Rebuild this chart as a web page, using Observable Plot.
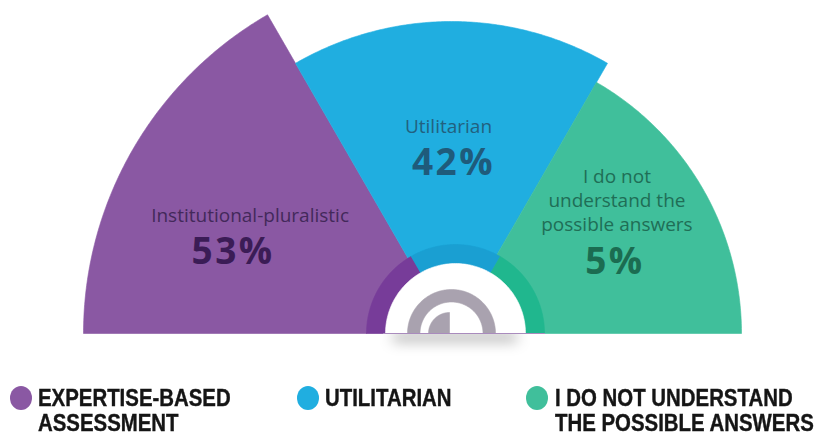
<!DOCTYPE html>
<html><head><meta charset="utf-8">
<script src="https://cdn.jsdelivr.net/npm/d3@7"></script>
<script src="https://cdn.jsdelivr.net/npm/@observablehq/plot@0.6"></script>
<style>
body{margin:0;background:#fff;}
#wrap{position:relative;width:816px;height:435px;overflow:hidden;background:#fff;}
#chart{position:absolute;left:0;top:0;}
.leg{position:absolute;font-family:"Liberation Sans",Arial,sans-serif;font-weight:bold;font-size:24px;line-height:25px;color:#151515;white-space:pre;transform:scaleX(0.85);transform-origin:0 0;-webkit-text-stroke:0.4px #151515;}
.dot{position:absolute;width:22px;height:24px;border-radius:50%;}
</style></head><body><div id="wrap"><div id="chart"></div></div>
<script>
// ---- data ----
const categories = ["Institutional-pluralistic", "Utilitarian", "I do not understand the possible answers"];
const values = [53, 42, 5];
const segmentLabels = ["Institutional-pluralistic", "Utilitarian", "I do not\nunderstand the\npossible answers"];
const legendLabels = ["EXPERTISE-BASED\nASSESSMENT", "UTILITARIAN", "I DO NOT UNDERSTAND\nTHE POSSIBLE ANSWERS"];

// ---- styles / layout ----
const colors = ["#8a58a3", "#20aee0", "#40bf9b"];
const ringColors = ["#773c99", "#1a9fd2", "#20b78e"];
const textColors = ["#43295a", "#22617f", "#1f6e56"];
const pctColors = ["#3b1c56", "#1f5b7b", "#1b6c51"];
const outerR = d3.scaleOrdinal().domain(categories).range([368, 312, 290]);
const labelAngleDeg = [154, 90, 29], labelR = [233, 191, 188];
const nameDx = [8, -3, 1], pctDx = [-9, 2, -1];
const nameDy = [-17.5, -17, -43], pctDy = [21, 20.5, 19.5];
const SHADOW = "#000001";

const W = 816, H = 362, CY = 333, CX = 451, HUBDX = 4;
const ang = d3.scaleBand().domain(categories).range([Math.PI, 0]);
const N = 120;
function arcPts(cx, r, a0, a1) { const p = []; for (let k = 0; k <= N; k++) { const a = a0 + (a1 - a0) * k / N; p.push([cx + r * Math.cos(a), r * Math.sin(a)]); } return p; }
function wedge(cx, r, a0, a1) { return [[cx, 0], ...arcPts(cx, r, a0, a1), [cx, 0]]; }
function annulus(cx, r0, r1, a0, a1) { return [...arcPts(cx, r1, a0, a1), ...arcPts(cx, r0, a1, a0)]; }
const poly = (pts, fill) => Plot.line(pts, {x: d => d[0], y: d => d[1], fill, stroke: fill, strokeWidth: 0.6, curve: "linear"});

const marks = [];
// shadow under hub (blurred below)
marks.push(Plot.rect([0], {x1: HUBDX - 62, x2: HUBDX + 62, y1: -8, y2: 0, fill: SHADOW, fillOpacity: 0.34}));
// main wedges
categories.forEach((c, i) => {
  const a0 = ang(c), a1 = ang(c) + ang.bandwidth();
  marks.push(poly(wedge(0, outerR(c), a1, a0), colors[i]));
});
// inner darker ring
categories.forEach((c, i) => {
  const a0 = ang(c), a1 = ang(c) + ang.bandwidth();
  marks.push(poly(annulus(HUBDX, 69, 89, a1, a0), ringColors[i]));
});
// white hub
marks.push(poly(wedge(HUBDX, 70, Math.PI, 0), "#ffffff"));
// gray icon
marks.push(poly(annulus(0, 31.5, 44, Math.PI, 0), "#a9a2af"));
marks.push(poly(wedge(-2, 21, Math.PI, Math.PI / 2), "#a9a2af"));
// thin base line under hub
marks.push(Plot.ruleY([0], {x1: HUBDX - 72, x2: HUBDX + 90, stroke: "#a98bbd", strokeWidth: 1}));
// labels
categories.forEach((c, i) => {
  const a = labelAngleDeg[i] * Math.PI / 180;
  const lx = labelR[i] * Math.cos(a), ly = labelR[i] * Math.sin(a);
  marks.push(Plot.text([segmentLabels[i]], {x: () => lx + nameDx[i], y: () => ly, text: d => d, fill: textColors[i], fontFamily: "Open Sans", fontSize: 19, lineHeight: 1.26, dy: nameDy[i]}));
  marks.push(Plot.text([values[i]], {x: () => lx + pctDx[i], y: () => ly, text: d => d + "%", fill: pctColors[i], fontFamily: "Open Sans", fontWeight: "bold", fontSize: 37, dy: pctDy[i]}));
});

const chart = Plot.plot({
  width: W, height: H, margin: 0, marginTop: 0, marginRight: 0, marginBottom: 0, marginLeft: 0,
  x: {domain: [-CX, W - CX], range: [0, W], axis: null},
  y: {domain: [-(H - CY), CY], range: [H, 0], axis: null},
  style: {background: "transparent", overflow: "visible"},
  marks
});
// blur filter for shadow
const svg = d3.select(chart);
const defs = svg.insert("defs", ":first-child");
defs.append("filter").attr("id", "blur").attr("x", "-50%").attr("y", "-300%").attr("width", "200%").attr("height", "700%")
  .append("feGaussianBlur").attr("stdDeviation", 7);
svg.selectAll("*").filter(function () { return this.getAttribute("fill") === SHADOW; }).attr("filter", "url(#blur)");
svg.selectAll("text").filter(function () { return this.closest('[font-weight="bold"]'); }).style("letter-spacing", "2.5px");
document.getElementById("chart").appendChild(chart);

// legend
const wrap = document.getElementById("wrap");
const legPos = [{dot: 21, text: 38}, {dot: 308, text: 325}, {dot: 537, text: 555}];
legendLabels.forEach((t, i) => {
  const d = document.createElement("div");
  d.className = "dot"; d.style.background = colors[i];
  d.style.left = (legPos[i].dot - 11) + "px"; d.style.top = (398 - 12) + "px";
  wrap.appendChild(d);
  const s = document.createElement("div");
  s.className = "leg"; s.textContent = t;
  s.style.left = legPos[i].text + "px"; s.style.top = "385px";
  wrap.appendChild(s);
});
</script></body></html>
